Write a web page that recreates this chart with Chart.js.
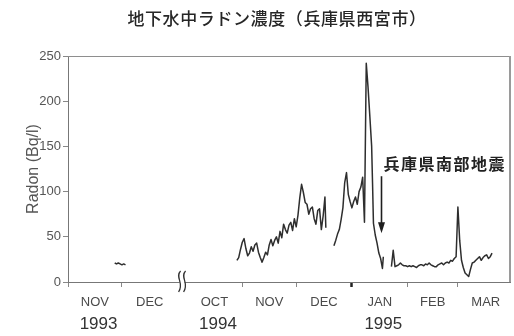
<!DOCTYPE html>
<html>
<head>
<meta charset="utf-8">
<script src="https://cdn.jsdelivr.net/npm/chart.js@4"></script>
<style>
  html, body { margin: 0; padding: 0; background: #fff; }
  #wrap { width: 514px; height: 336px; }
</style>
</head>
<body>
<div id="wrap"><canvas id="chart" width="514" height="336"></canvas></div>
<script>
// Groundwater radon concentration, Nishinomiya (Hyogo), in Bq/l.
const titleText = '地下水中ラドン濃度（兵庫県西宮市）';
const yTitle = 'Radon (Bq/l)';

const nov1993Dates = ['1993-11-27','1993-11-28','1993-11-29','1993-11-30','1993-12-01','1993-12-02','1993-12-03'];
const nov1993Radon = [21, 20, 21, 20, 19, 20, 19];

const autumn1994Dates = [
  '1994-10-29','1994-10-30','1994-10-31',
  '1994-11-01','1994-11-02','1994-11-03','1994-11-04','1994-11-05','1994-11-06','1994-11-07','1994-11-08','1994-11-09','1994-11-10',
  '1994-11-11','1994-11-12','1994-11-13','1994-11-14','1994-11-15','1994-11-16','1994-11-17','1994-11-18','1994-11-19','1994-11-20',
  '1994-11-21','1994-11-22','1994-11-23','1994-11-24','1994-11-25','1994-11-26','1994-11-27','1994-11-28','1994-11-29','1994-11-30',
  '1994-12-01','1994-12-02','1994-12-03','1994-12-04','1994-12-05','1994-12-06','1994-12-07','1994-12-08','1994-12-09','1994-12-10',
  '1994-12-11','1994-12-12','1994-12-13','1994-12-14','1994-12-15','1994-12-16','1994-12-17','1994-12-17T12:00'
];
const autumn1994Radon = [
  24, 27, 36,
  44, 48, 37, 29, 32, 39, 34, 41, 43, 33,
  27, 22, 27, 33, 30, 41, 47, 40, 46, 50,
  43, 56, 49, 64, 58, 54, 63, 66, 57, 70,
  61, 74, 93, 108, 99, 88, 86, 75, 81, 83,
  70, 64, 79, 81, 58, 73, 94, 60
];

const winter1995Dates = [
  '1994-12-22','1994-12-23','1994-12-24','1994-12-25','1994-12-26','1994-12-27','1994-12-28','1994-12-29','1994-12-30','1994-12-31',
  '1995-01-01','1995-01-02','1995-01-03','1995-01-04','1995-01-05','1995-01-06','1995-01-07','1995-01-08','1995-01-09','1995-01-10',
  '1995-01-11','1995-01-12','1995-01-12T12:00','1995-01-13','1995-01-14','1995-01-15','1995-01-16','1995-01-17','1995-01-18','1995-01-18T12:00'
];
const winter1995Radon = [
  40, 46, 53, 58, 69, 82, 110, 121, 97, 89,
  82, 89, 94, 86, 100, 105, 116, 66, 242, 215,
  183, 150, 109, 65, 52, 43, 32, 26, 15, 28
];

const spring1995Dates = [
  '1995-01-23','1995-01-24','1995-01-25','1995-01-26','1995-01-27','1995-01-28','1995-01-29','1995-01-30','1995-01-31',
  '1995-02-01','1995-02-02','1995-02-03','1995-02-04','1995-02-05','1995-02-06','1995-02-07','1995-02-08','1995-02-09','1995-02-10',
  '1995-02-11','1995-02-12','1995-02-13','1995-02-14','1995-02-15','1995-02-16','1995-02-17','1995-02-18','1995-02-19','1995-02-20',
  '1995-02-21','1995-02-22','1995-02-23','1995-02-24','1995-02-25','1995-02-26','1995-02-27','1995-02-28',
  '1995-03-01','1995-03-02','1995-03-03','1995-03-04','1995-03-05','1995-03-06','1995-03-07','1995-03-08','1995-03-09','1995-03-10',
  '1995-03-11','1995-03-12','1995-03-13','1995-03-14','1995-03-15','1995-03-16','1995-03-17','1995-03-18','1995-03-19','1995-03-20'
];
const spring1995Radon = [
  17, 35, 17, 18, 19, 21, 19, 18, 18,
  17, 18, 17, 18, 17, 16, 18, 19, 19, 18,
  20, 19, 21, 19, 18, 17, 17, 19, 20, 21,
  19, 21, 22, 21, 24, 23, 26, 28,
  83, 46, 24, 16, 10, 8, 6, 14, 21, 22,
  24, 26, 28, 24, 27, 29, 30, 26, 28, 32
];

// Axis: months shown, with Jan–Sep 1994 cut out at the break mark
const monthStarts = ['1993-11-01','1993-12-01','1994-10-01','1994-11-01','1994-12-01','1995-01-01','1995-02-01','1995-03-01'];
const monthEnds   = ['1993-12-01','1994-01-01','1994-11-01','1994-12-01','1995-01-01','1995-02-01','1995-03-01','1995-04-01'];
const monthLabels = ['NOV','DEC','OCT','NOV','DEC','JAN','FEB','MAR'];
const boundaryDates = ['1993-11-01','1993-12-01','1994-11-01','1994-12-01','1995-01-01','1995-02-01','1995-03-01'];
const yearLabels = ['1993','1994','1995'];
const yearMonthIndex = [0, 2, 5];
const radonTicks = [0, 50, 100, 150, 200, 250];
const axisEndDate = '1995-03-30';

const quakeDate = '1995-01-17';
const quakeLabel = '兵庫県南部地震';

const DAY = 86400000;
const AXIS_START = Date.UTC(1993, 10, 1);
const CUT_FROM = Date.UTC(1994, 0, 1);
const CUT_TO = Date.UTC(1994, 9, 1);
const CUT_KEEP = 5; // days of axis left for the break mark

function axisDay(s) {
  const t = Date.parse(s.length === 10 ? s + 'T00:00:00Z' : s + 'Z');
  let d = (t - AXIS_START) / DAY;
  if (t >= CUT_TO) d -= (CUT_TO - CUT_FROM) / DAY - CUT_KEEP;
  return d;
}
const axisMax = axisDay(axisEndDate);
const monthMid = i => (axisDay(monthStarts[i]) + axisDay(monthEnds[i])) / 2;

function series(dates, values) {
  return dates.map((d, i) => ({ x: axisDay(d), y: values[i] }));
}

const SANS = '"Liberation Sans", Arial, sans-serif';
const CJK = '"Noto Sans CJK JP", "Noto Sans CJK SC", sans-serif';
const lineStyle = {
  borderColor: '#2e2e2e', borderWidth: 1.5, pointRadius: 0, pointHoverRadius: 0,
  fill: false, tension: 0, borderJoinStyle: 'round'
};

// Heading above the plot
const headingPlugin = {
  id: 'heading',
  afterDraw(chart) {
    const { ctx } = chart;
    ctx.save();
    ctx.font = '500 17px ' + CJK;
    ctx.letterSpacing = '0.6px';
    ctx.fillStyle = '#262626';
    ctx.textAlign = 'center';
    ctx.textBaseline = 'middle';
    ctx.fillText(titleText, 277, 19);
    ctx.restore();
  }
};

const framePlugin = {
  id: 'frame',
  afterDatasetsDraw(chart) {
    const { ctx, chartArea: a } = chart;
    ctx.save();
    ctx.strokeStyle = '#8e8e8e';
    ctx.lineWidth = 1;
    ctx.beginPath();
    ctx.moveTo(a.left, a.top + 0.5);
    ctx.lineTo(a.right, a.top + 0.5);
    ctx.stroke();
    ctx.lineWidth = 2;
    ctx.strokeStyle = '#9a9a9a';
    ctx.beginPath();
    ctx.moveTo(a.right, a.top);
    ctx.lineTo(a.right, a.bottom);
    ctx.stroke();
    ctx.restore();
  }
};

const breakPlugin = {
  id: 'axisBreak',
  afterDraw(chart) {
    const { ctx, chartArea: a } = chart;
    const xs = chart.scales.x;
    const cx = xs.getPixelForValue(axisDay('1994-01-01') + CUT_KEEP / 2);
    const top = a.bottom - 11, bot = a.bottom + 10;
    const gap = 5;
    const squiggle = x => {
      ctx.moveTo(x + 1, top);
      ctx.bezierCurveTo(x - 5, top + 6, x + 5, bot - 9, x - 1, bot);
    };
    ctx.save();
    ctx.fillStyle = '#fff';
    ctx.fillRect(cx - gap / 2, a.bottom - 2, gap, 4);
    ctx.strokeStyle = '#333';
    ctx.lineWidth = 1.3;
    ctx.beginPath();
    squiggle(cx - gap / 2);
    squiggle(cx + gap / 2);
    ctx.stroke();
    ctx.restore();
  }
};

const quakePlugin = {
  id: 'quake',
  afterDraw(chart) {
    const { ctx } = chart;
    const xs = chart.scales.x, ys = chart.scales.y;
    const x = Math.round(xs.getPixelForValue(axisDay(quakeDate))) + 0.5;
    const y0 = ys.getPixelForValue(117);
    const y1 = ys.getPixelForValue(54);
    ctx.save();
    ctx.strokeStyle = '#1e1e1e';
    ctx.fillStyle = '#1e1e1e';
    ctx.lineWidth = 1.6;
    ctx.beginPath();
    ctx.moveTo(x, y0);
    ctx.lineTo(x, y1 - 9);
    ctx.stroke();
    ctx.beginPath();
    ctx.moveTo(x - 3.5, y1 - 11);
    ctx.lineTo(x + 3.5, y1 - 11);
    ctx.lineTo(x, y1);
    ctx.closePath();
    ctx.fill();
    ctx.font = 'bold 16px ' + CJK;
    ctx.letterSpacing = '1.5px';
    ctx.textBaseline = 'middle';
    ctx.textAlign = 'left';
    ctx.fillStyle = '#222';
    ctx.fillText(quakeLabel, x + 2, ys.getPixelForValue(131));
    ctx.restore();
  }
};

new Chart(document.getElementById('chart'), {
  type: 'line',
  data: {
    datasets: [
      { ...lineStyle, data: series(nov1993Dates, nov1993Radon) },
      { ...lineStyle, data: series(autumn1994Dates, autumn1994Radon) },
      { ...lineStyle, data: series(winter1995Dates, winter1995Radon) },
      { ...lineStyle, data: series(spring1995Dates, spring1995Radon) }
    ]
  },
  options: {
    responsive: false,
    animation: false,
    devicePixelRatio: 1,
    layout: { padding: { left: 0, right: 4, top: 56, bottom: 0 } },
    plugins: {
      legend: { display: false },
      tooltip: { enabled: false },
      title: { display: false }
    },
    scales: {
      x: {
        type: 'linear', position: 'bottom', weight: 0,
        min: 0, max: axisMax,
        afterBuildTicks: s => { s.ticks = boundaryDates.map(d => ({ value: axisDay(d) })); },
        afterFit: s => { s.height = 6; },
        ticks: { display: false },
        grid: {
          drawOnChartArea: false, tickLength: 5,
          color: '#777',
          tickColor: c => (c.tick && c.tick.value === axisDay('1995-01-01')) ? '#222' : '#888',
          tickWidth: c => (c.tick && c.tick.value === axisDay('1995-01-01')) ? 2.5 : 1
        },
        border: { color: '#777', width: 1 }
      },
      xMonth: {
        type: 'linear', position: 'bottom', weight: 1,
        min: 0, max: axisMax,
        afterBuildTicks: s => { s.ticks = monthLabels.map((_, i) => ({ value: monthMid(i) })); },
        afterFit: s => { s.height = 20; },
        ticks: {
          autoSkip: false, maxRotation: 0, padding: 7,
          color: '#4a4a4a', font: { family: SANS, size: 13 },
          callback: (v, i) => monthLabels[i]
        },
        grid: { display: false, drawTicks: false, tickLength: 0 },
        border: { display: false }
      },
      xYear: {
        type: 'linear', position: 'bottom', weight: 2,
        min: 0, max: axisMax,
        afterBuildTicks: s => { s.ticks = yearMonthIndex.map(i => ({ value: monthMid(i) + 2 })); },
        afterFit: s => { s.height = 28; },
        ticks: {
          autoSkip: false, maxRotation: 0, padding: 6,
          color: '#333', font: { family: SANS, size: 17 },
          callback: (v, i) => yearLabels[i]
        },
        grid: { display: false, drawTicks: false, tickLength: 0 },
        border: { display: false }
      },
      y: {
        min: 0, max: 250,
        afterBuildTicks: s => { s.ticks = radonTicks.map(v => ({ value: v })); },
        afterFit: s => { s.width = 68; },
        ticks: { color: '#555', font: { family: SANS, size: 13 }, padding: 2 },
        grid: { drawOnChartArea: false, tickLength: 5, color: '#888' },
        border: { color: '#777', width: 1 },
        title: {
          display: true, text: yTitle, color: '#555',
          font: { family: SANS, size: 16 },
          padding: { top: 24, bottom: 0 }
        }
      }
    }
  },
  plugins: [framePlugin, breakPlugin, quakePlugin, headingPlugin]
});
</script>
</body>
</html>
